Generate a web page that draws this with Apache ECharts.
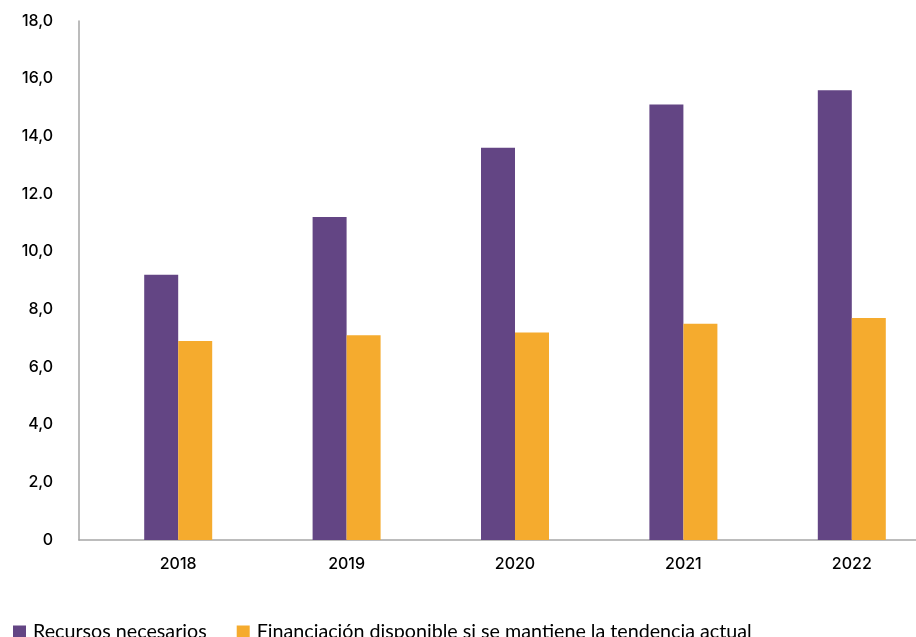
<!DOCTYPE html>
<html>
<head>
<meta charset="utf-8">
<script src="https://cdn.jsdelivr.net/npm/echarts@6/dist/echarts.min.js"></script>
<style>
  html, body { margin: 0; padding: 0; background: #fff; }
  #chart { width: 916px; height: 637px; }
</style>
</head>
<body>
<div id="chart"></div>
<script>
// 数据
var years = ['2018', '2019', '2020', '2021', '2022'];
var recursos = [9.2, 11.2, 13.6, 15.1, 15.6];
var financiacion = [6.9, 7.1, 7.2, 7.5, 7.7];
var yTicks = { 0: '0', 2: '2,0', 4: '4,0', 6: '6,0', 8: '8,0', 10: '10,0', 12: '12.0', 14: '14,0', 16: '16,0', 18: '18,0' };

var chart = echarts.init(document.getElementById('chart'));

var font = 'Lato, "Noto Sans", sans-serif';
var axisFont = 'Inter, Lato, sans-serif';
var axisGray = '#a6a6a6';
var labelColor = '#000';

var option = {
  animation: false,
  textStyle: { fontFamily: font },
  // grid 0: 柱子; grid 1: 坐标轴框
  grid: [
    { left: 94, top: 21, bottom: 97, width: 842, outerBoundsMode: 'none' },
    { left: 79, top: 21, bottom: 97, right: 0, outerBoundsMode: 'none' }
  ],
  legend: {
    left: 8,
    top: 617,
    itemWidth: 13,
    itemHeight: 13,
    itemGap: 30,
    icon: 'rect',
    textStyle: { fontSize: 19.7, color: labelColor, fontFamily: font, padding: [0, 0, 0, 2] },
    data: ['Recursos necesarios', 'Financiación disponible si se mantiene la tendencia actual']
  },
  xAxis: [
    {
      gridIndex: 0,
      type: 'category',
      data: years,
      axisLine: { show: false },
      axisTick: { show: false },
      axisLabel: { color: labelColor, fontSize: 16, fontWeight: 500, fontFamily: axisFont, margin: 16 }
    },
    {
      gridIndex: 1,
      type: 'category',
      data: years,
      axisLine: { lineStyle: { color: axisGray, width: 1.5 } },
      axisTick: { show: false },
      axisLabel: { show: false }
    }
  ],
  yAxis: [
    {
      gridIndex: 0,
      type: 'value',
      min: 0,
      max: 18,
      interval: 2,
      show: false
    },
    {
      gridIndex: 1,
      type: 'value',
      min: 0,
      max: 18,
      interval: 2,
      axisLine: { show: true, lineStyle: { color: axisGray, width: 1.5 } },
      axisTick: { show: false },
      splitLine: { show: false },
      axisLabel: {
        color: labelColor,
        fontSize: 16,
        fontWeight: 500,
        fontFamily: axisFont,
        margin: 26,
        formatter: function (v) { return yTicks[v]; }
      }
    }
  ],
  series: [
    {
      name: 'Recursos necesarios',
      type: 'bar',
      xAxisIndex: 0,
      yAxisIndex: 0,
      data: recursos,
      barWidth: 34,
      barGap: '0%',
      itemStyle: { color: '#634584' }
    },
    {
      name: 'Financiación disponible si se mantiene la tendencia actual',
      type: 'bar',
      xAxisIndex: 0,
      yAxisIndex: 0,
      data: financiacion,
      barWidth: 34,
      barGap: '0%',
      itemStyle: { color: '#f5ab2e' }
    }
  ]
};

chart.setOption(option);
</script>
</body>
</html>
